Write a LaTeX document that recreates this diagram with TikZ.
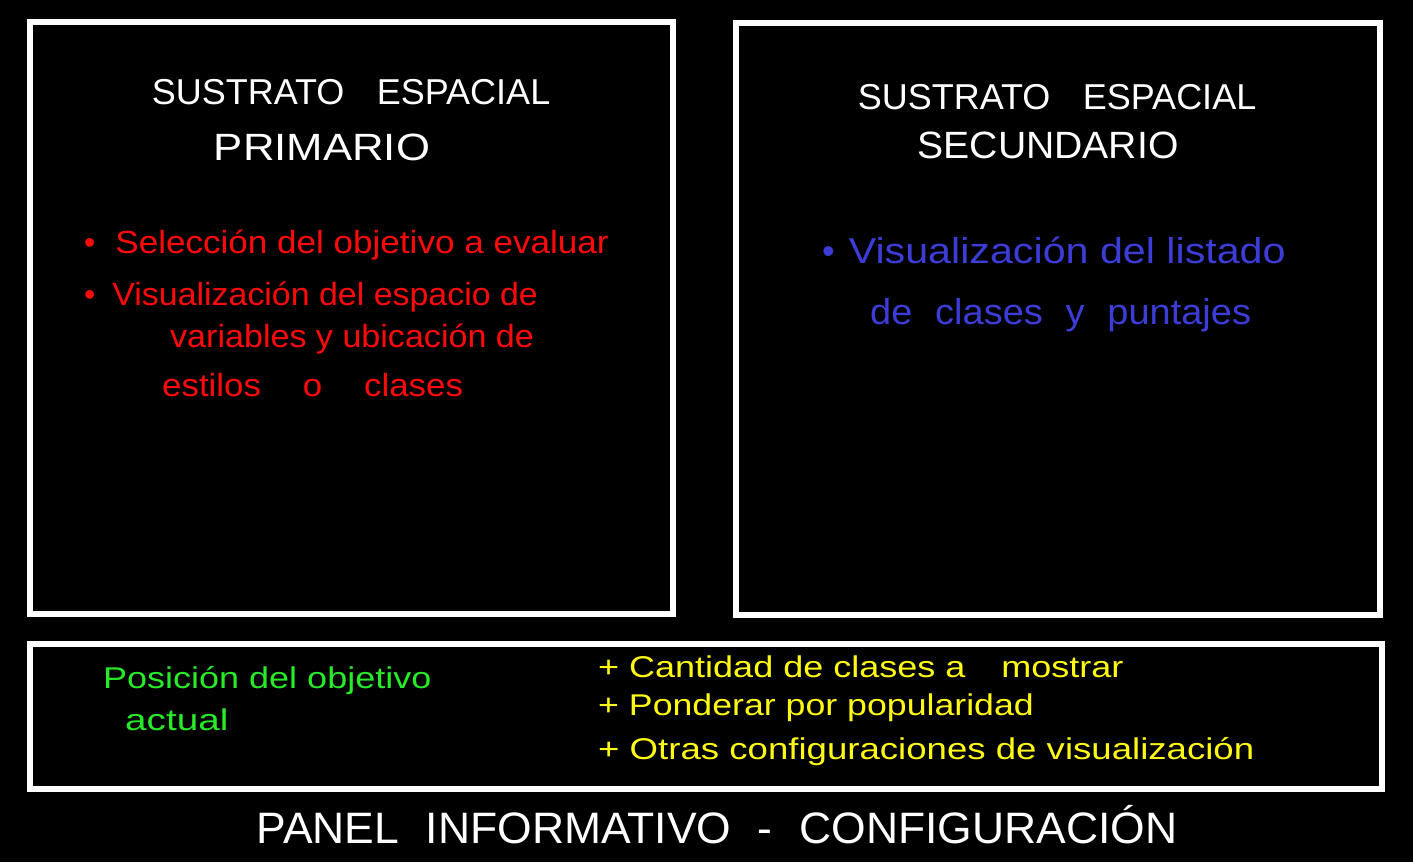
\documentclass[tikz,border=0pt]{standalone}
\usepackage{fontspec}
\usepackage{graphicx}
\setmainfont{Liberation Sans}
\definecolor{hred}{RGB}{255,10,10}
\definecolor{hblue}{RGB}{60,60,215}
\definecolor{hgreen}{RGB}{40,235,40}
\definecolor{hyellow}{RGB}{255,250,20}
\newcommand{\fs}[1]{\fontsize{#1}{#1}\selectfont}
\newcommand{\sx}[2]{\scalebox{#1}[1]{#2}}
\tikzset{
  box/.style={draw=white, line width=6pt, inner sep=0pt, fill=black},
  ttl/.style={text=white, font=\fs{38}, align=center, inner sep=0pt},
  redtxt/.style={text=hred, font=\fs{32}, anchor=west, inner sep=0pt},
  bluetxt/.style={text=hblue, font=\fs{36}, anchor=west, inner sep=0pt},
  greentxt/.style={text=hgreen, font=\fs{30}, anchor=west, inner sep=0pt},
  yeltxt/.style={text=hyellow, font=\fs{30}, anchor=west, inner sep=0pt},
}
\begin{document}
\begin{tikzpicture}[x=1pt,y=-1pt]
\fill[black] (0,0) rectangle (1413,862);
\useasboundingbox (0,0) rectangle (1413,862);
% boxes
\node[box, minimum width=643pt, minimum height=592pt] (prim) at (351.5,318) {};
\node[box, minimum width=644pt, minimum height=592pt] (sec) at (1058,319) {};
\node[box, minimum width=1352pt, minimum height=145pt] (panel) at (706,716.5) {};
% titles
\node[ttl, font=\fs{36}] (t1a) at (351,92) {SUSTRATO\hspace{0.9em}ESPACIAL};
\node[ttl] (t1b) at (322,147) {\sx{1.15}{PRIMARIO}};
\node[ttl, font=\fs{36}] (t2a) at (1057,97) {SUSTRATO\hspace{0.9em}ESPACIAL};
\node[ttl] (t2b) at (1048,145) {\sx{1.03}{SECUNDARIO}};
% red bullets
\node[redtxt] (r1) at (84,245) {•\hspace{20pt}\sx{1.096}{Selección del objetivo a evaluar}};
\node[redtxt] (r2) at (84,297) {•\hspace{17pt}\sx{1.06}{Visualización del espacio de}};
\node[redtxt] (r3) at (170,339) {\sx{1.065}{variables y ubicación de}};
\node[redtxt] (r4) at (162,385) {\sx{1.09}{estilos\hspace{1.2em}o\hspace{1.2em}clases}};
% blue
\node[bluetxt] (b1) at (822,250) {•\hspace{14pt}\sx{1.145}{Visualización del listado}};
\node[bluetxt] (b2) at (870,315) {\sx{1.055}{de\hspace{0.6em}clases\hspace{0.6em}y\hspace{0.6em}puntajes}};
% green
\node[greentxt] (g1) at (103,681) {\sx{1.2}{Posición del objetivo}};
\node[greentxt] (g2) at (125,720) {\sx{1.29}{actual}};
% yellow
\node[yeltxt] (y1) at (598,667) {\sx{1.2}{+ Cantidad de clases a\hspace{1em}mostrar}};
\node[yeltxt] (y2) at (598,708) {\sx{1.19}{+ Ponderar por popularidad}};
\node[yeltxt] (y3) at (598,752) {\sx{1.22}{+ Otras configuraciones de visualización}};
% caption
\node[ttl, font=\fs{44}] (cap) at (717,825) {\sx{1.01}{PANEL\hspace{0.6em}INFORMATIVO\hspace{0.6em}-\hspace{0.6em}CONFIGURACIÓN}};
\end{tikzpicture}
\end{document}
